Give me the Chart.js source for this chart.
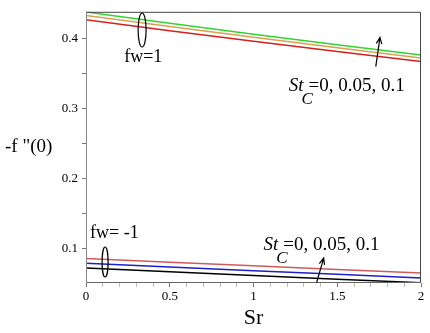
<!DOCTYPE html>
<html>
<head>
<meta charset="utf-8">
<script src="https://cdn.jsdelivr.net/npm/chart.js@4.4.1/dist/chart.umd.min.js"></script>
<style>
  html, body { margin: 0; padding: 0; background: #fff; }
  #wrap { width: 430px; height: 333px; position: relative; }
</style>
</head>
<body>
<div id="wrap"><canvas id="chart"></canvas></div>
<script>
// Datos: -f''(0) frente a Sr
var srValues = [0, 0.5, 1, 1.5, 2];

// fw = 1, St_C = 0, 0.05, 0.1
var fw1Green  = [0.4377, 0.4215, 0.4060, 0.3910, 0.3763];
var fw1Orange = [0.4328, 0.4170, 0.4018, 0.3868, 0.3721];
var fw1Red    = [0.4265, 0.4110, 0.3960, 0.3813, 0.3670];

// fw = -1, St_C = 0, 0.05, 0.1
var fwm1Red   = [0.0856, 0.0802, 0.0750, 0.0698, 0.0647];
var fwm1Blue  = [0.0787, 0.0733, 0.0681, 0.0629, 0.0578];
var fwm1Black = [0.0718, 0.0664, 0.0612, 0.0560, 0.0509];

var yTickLabels = [0.1, 0.2, 0.3, 0.4];
var xTickLabels = [0, 0.5, 1, 1.5, 2];

var serif = '"Liberation Serif", "DejaVu Serif", serif';

function pts(ys) {
    return srValues.map(function (x, i) { return { x: x, y: ys[i] }; });
}

function serie(ys, color) {
    return {
        data: pts(ys),
        borderColor: color,
        borderWidth: 1.5,
        pointRadius: 0,
        tension: 0,
        fill: false
    };
}

function near(v, list) {
    return list.some(function (t) { return Math.abs(v - t) < 1e-6; });
}

// Anotaciones: elipses, flechas, textos y marco
var annotations = {
    id: 'annotations',
    afterDatasetsDraw: function (chart) {
        var c = chart.ctx;
        var xs = chart.scales.x, ys = chart.scales.y;
        var a = chart.chartArea;
        function px(v) { return xs.getPixelForValue(v); }
        function py(v) { return ys.getPixelForValue(v); }

        c.save();
        // marco
        c.lineWidth = 1;
        c.strokeStyle = '#444';
        c.beginPath();
        c.moveTo(a.left, a.top + 0.5);
        c.lineTo(a.right - 0.5, a.top + 0.5);
        c.lineTo(a.right - 0.5, a.bottom);
        c.stroke();
        c.strokeStyle = '#666';
        c.beginPath();
        c.moveTo(a.left, a.bottom - 0.5);
        c.lineTo(a.right, a.bottom - 0.5);
        c.stroke();
        c.strokeStyle = '#888';
        c.beginPath();
        c.moveTo(a.left + 0.5, a.top);
        c.lineTo(a.left + 0.5, a.bottom);
        c.stroke();

        // elipses
        c.strokeStyle = '#000';
        c.lineWidth = 1.2;
        c.beginPath();
        c.ellipse(px(0.335), py(0.412), 4, 17, 0, 0, Math.PI * 2);
        c.stroke();
        c.beginPath();
        c.ellipse(px(0.114), py(0.0805), 3, 15, 0, 0, Math.PI * 2);
        c.stroke();

        // flechas
        function arrow(x0, y0, x1, y1) {
            var X0 = px(x0), Y0 = py(y0), X1 = px(x1), Y1 = py(y1);
            var ang = Math.atan2(Y1 - Y0, X1 - X0);
            c.beginPath();
            c.moveTo(X0, Y0);
            c.lineTo(X1, Y1);
            c.moveTo(X1 - 7 * Math.cos(ang - 0.4), Y1 - 7 * Math.sin(ang - 0.4));
            c.lineTo(X1, Y1);
            c.lineTo(X1 - 7 * Math.cos(ang + 0.4), Y1 - 7 * Math.sin(ang + 0.4));
            c.stroke();
        }
        arrow(1.73, 0.3596, 1.755, 0.4014);
        arrow(1.377, 0.0512, 1.419, 0.0861);

        // textos
        c.fillStyle = '#000';
        c.textBaseline = 'middle';
        c.textAlign = 'left';
        c.font = '18px ' + serif;
        c.fillText('fw=1', px(0.228), py(0.3735));
        c.fillText('fw= -1', px(0.024), py(0.121));

        function stc(x, y) {
            var X = px(x), Y = py(y);
            c.font = 'italic 19px ' + serif;
            c.fillText('St', X, Y);
            var w = c.measureText('St').width;
            c.font = 'italic 17px ' + serif;
            c.fillText('C', X + w - 2, Y + 13);
            c.font = '19px ' + serif;
            c.fillText('=0, 0.05, 0.1', X + w + 5, Y);
        }
        stc(1.21, 0.3317);
        stc(1.06, 0.1042);

        // titulo del eje y
        c.font = '19px ' + serif;
        c.fillText('-f "(0)', 5, 147);
        c.restore();
    }
};

var ctx = document.getElementById('chart').getContext('2d');
var chart = new Chart(ctx, {
    type: 'line',
    data: {
        datasets: [
            serie(fw1Green, '#2fd62f'),
            serie(fw1Orange, '#d9a24f'),
            serie(fw1Red, '#d42020'),
            serie(fwm1Red, '#d25a5a'),
            serie(fwm1Blue, '#1f1fc8'),
            serie(fwm1Black, '#000000')
        ]
    },
    options: {
        responsive: true,
        maintainAspectRatio: false,
        animation: false,
        layout: { padding: { top: 5, right: 9, left: 0, bottom: 0 } },
        plugins: {
            legend: { display: false },
            tooltip: { enabled: false }
        },
        scales: {
            x: {
                type: 'linear',
                min: 0,
                max: 2,
                border: { display: false },
                afterFit: function (s) { s.height = 50; },
                ticks: {
                    stepSize: 0.1,
                    autoSkip: false,
                    maxRotation: 0,
                    padding: 2,
                    color: '#000',
                    font: { family: serif, size: 13 },
                    callback: function (v) { return near(v, xTickLabels) ? String(v) : ''; }
                },
                grid: {
                    drawOnChartArea: false,
                    tickLength: 4,
                    color: function (c) {
                        var v = c.tick ? c.tick.value : 0;
                        return near(v, xTickLabels) ? '#777' : '#bbb';
                    }
                },
                title: {
                    display: true,
                    text: 'Sr',
                    color: '#000',
                    font: { family: serif, size: 22 },
                    padding: { top: 0, bottom: 2 }
                }
            },
            y: {
                type: 'linear',
                min: 0.0505,
                max: 0.438,
                border: { display: false },
                afterFit: function (s) { s.width = 86; },
                ticks: {
                    stepSize: 0.05,
                    autoSkip: false,
                    padding: 4,
                    color: '#000',
                    font: { family: serif, size: 13 },
                    callback: function (v) { return near(v, yTickLabels) ? String(v) : ''; }
                },
                grid: {
                    drawOnChartArea: false,
                    tickLength: 4,
                    color: function (c) {
                        var v = c.tick ? c.tick.value : 0;
                        return Math.abs(v / 0.05 - Math.round(v / 0.05)) < 1e-6 ? '#777' : 'rgba(0,0,0,0)';
                    }
                }
            }
        }
    },
    plugins: [annotations]
});
</script>
</body>
</html>
